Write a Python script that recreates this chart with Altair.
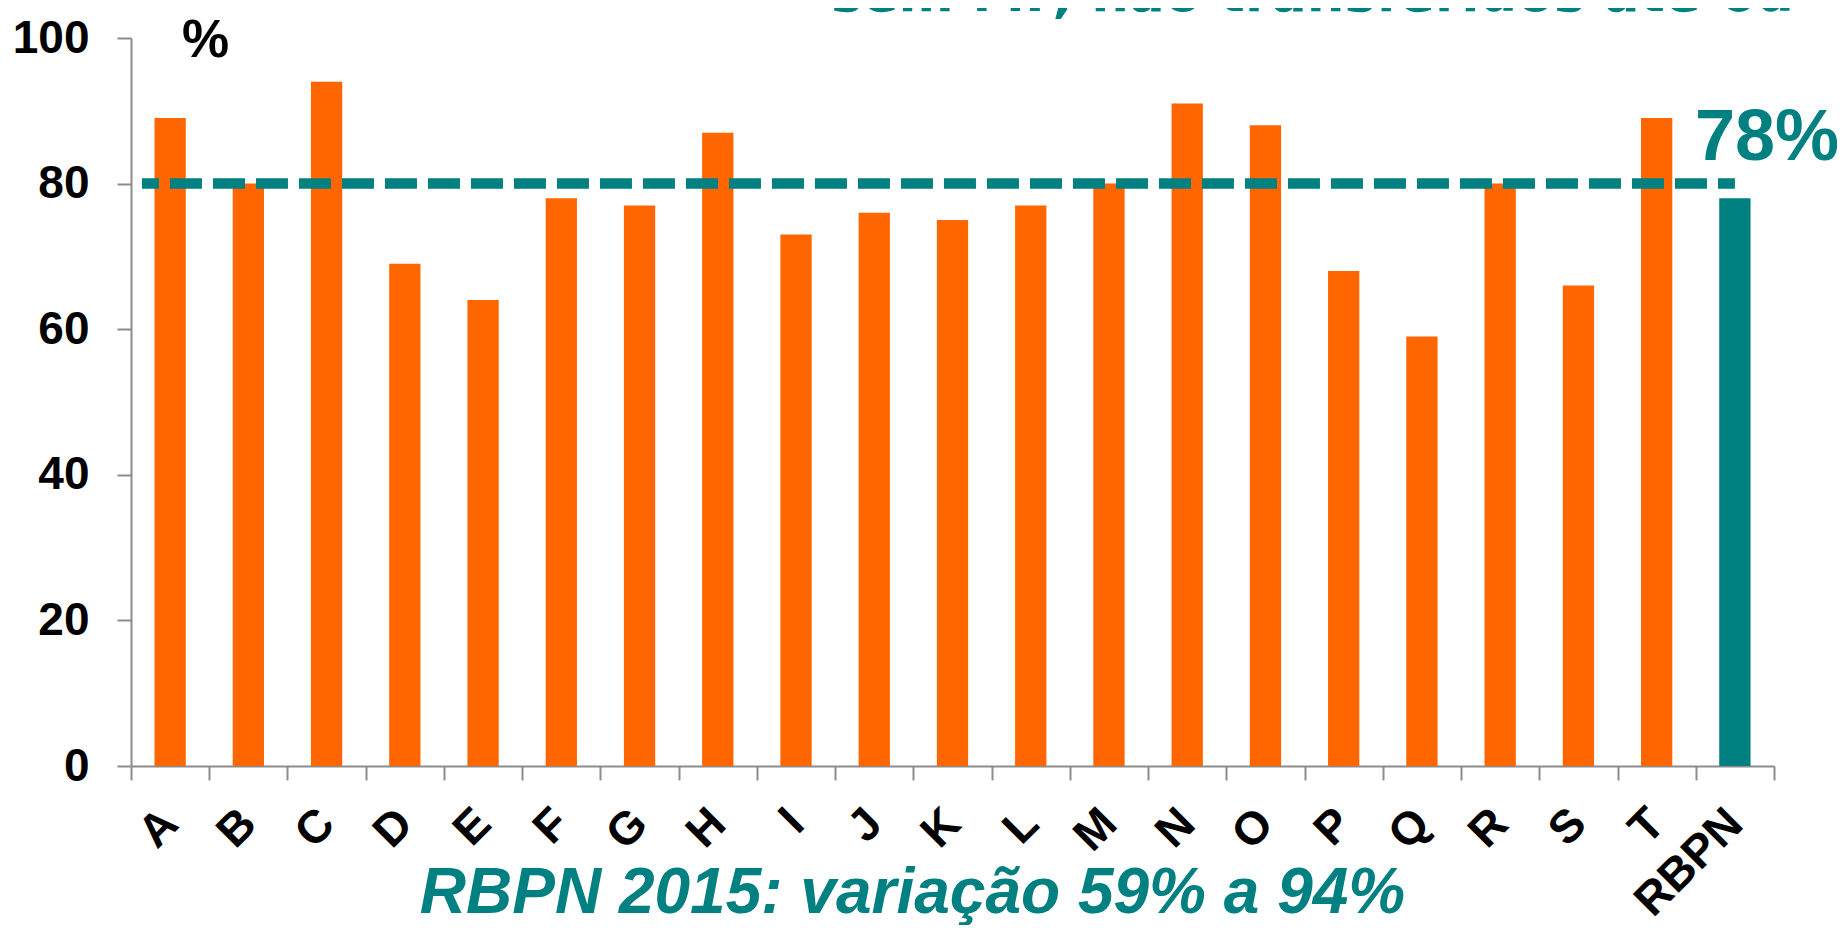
import altair as alt
import pandas as pd

# ---- data ----
categories = ["A", "B", "C", "D", "E", "F", "G", "H", "I", "J", "K",
              "L", "M", "N", "O", "P", "Q", "R", "S", "T", "RBPN"]
values = [89, 80, 94, 69, 64, 78, 77, 87, 73, 76, 75,
          77, 80, 91, 88, 68, 59, 80, 66, 89, 78]
groups = ["unit"] * 20 + ["total"]
target = 80
y_ticks = [0, 20, 40, 60, 80, 100]
top_text = "sem MF, não transferidos até 6d"

lo, hi = min(values[:-1]), max(values[:-1])
bottom_text = f"RBPN 2015: variação {lo}% a {hi}%"

df = pd.DataFrame({"cat": categories, "value": values, "group": groups})
df_rule = pd.DataFrame({"cat": [categories[0]], "end": [categories[-1]], "value": [target]})
df_lab = pd.DataFrame({"cat": [categories[-1]], "value": [target], "label": [f"{values[-1]}%"]})
df_top = pd.DataFrame({"t": [top_text]})

ORANGE = "#FF6600"
TEAL = "#008080"
GRAY = "#8C8C8C"
FONT = "Liberation Sans"

x_scale = alt.Scale(domain=categories, paddingInner=0, paddingOuter=0)
y_scale = alt.Scale(domain=[0, 100], nice=False)

x_axis = alt.Axis(
    title=bottom_text, labelAngle=-45, labelAlign="right", labelBaseline="middle",
    labelFont=FONT, labelFontSize=46, labelFontWeight="bold", labelColor="black",
    labelPadding=36, labelOverlap=False, tickBand="extent", tickSize=14, tickWidth=2,
    tickColor=GRAY, domainColor=GRAY, domainWidth=2,
    titleX=781, titleY=146, titleAlign="center", titleBaseline="alphabetic",
    titleFont=FONT, titleFontSize=64, titleFontWeight="bold", titleFontStyle="italic",
    titleColor=TEAL,
)
y_axis = alt.Axis(
    values=y_ticks, title="%", titleAngle=0, titleX=74, titleY=18, titleAlign="center",
    titleBaseline="alphabetic", titleFont=FONT, titleFontSize=53, titleFontWeight="bold",
    titleColor="black", labelFont=FONT, labelFontSize=46, labelFontWeight="bold",
    labelColor="black", labelPadding=28, tickSize=14, tickWidth=2, tickColor=GRAY,
    domainColor=GRAY, domainWidth=2, grid=False,
)

X = alt.X("cat:N", scale=x_scale, axis=x_axis, sort=categories)
Y = alt.Y("value:Q", scale=y_scale, axis=y_axis)

bars = alt.Chart(df).mark_bar(width=alt.RelativeBandSize(0.4)).encode(
    x=X,
    y=Y,
    color=alt.Color("group:N", scale=alt.Scale(domain=["unit", "total"], range=[ORANGE, TEAL]),
                    legend=None),
)

rule = alt.Chart(df_rule).mark_rule(
    color=TEAL, strokeWidth=10.5, strokeDash=[32, 11], strokeDashOffset=15
).encode(
    x=alt.X("cat:N", scale=x_scale, axis=x_axis, sort=categories, bandPosition=0.14),
    x2=alt.X2("end:N"),
    y=Y,
)

lab = alt.Chart(df_lab).mark_text(
    align="left", baseline="alphabetic", dx=-40, dy=-24, font=FONT, fontSize=72,
    fontWeight="bold", color=TEAL,
).encode(x=X, y=Y, text="label:N")

top = alt.Chart(df_top).mark_text(
    align="left", baseline="alphabetic", font="DejaVu Sans", fontSize=53,
    fontWeight="bold", color=TEAL,
).encode(x=alt.value(700), y=alt.value(-27), text="t:N")

chart = alt.layer(bars, rule, lab, top).properties(
    width=1643, height=728,
    autosize=alt.AutoSizeParams(type="none"),
    padding={"left": 123, "top": 30, "right": 66, "bottom": 159},
).configure_view(stroke=None)

chart.save("out.html", embed_options={"renderer": "svg", "actions": False})
